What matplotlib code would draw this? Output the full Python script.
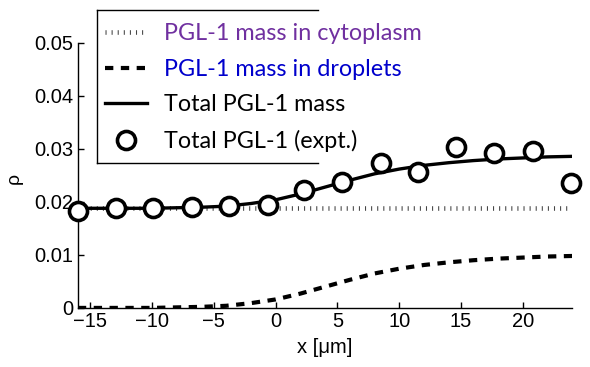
import numpy as np
import matplotlib
matplotlib.use("Agg")
from matplotlib import pyplot as plt
from matplotlib.lines import Line2D

# model curves, every 2 um
x_model = [-16, -14, -12, -10, -8, -6, -4, -2, 0, 2, 4, 6, 8, 10, 12, 14, 16, 18, 20, 22, 24]
rho_cyto = [0.0188] * len(x_model)
rho_drop = [0.0, 0.0, 0.0, 0.0, 0.0001, 0.0002, 0.0004, 0.0009, 0.0016, 0.0027, 0.0040,
            0.0053, 0.0065, 0.0074, 0.0081, 0.0086, 0.0090, 0.0093, 0.0095, 0.0097, 0.0098]
rho_total = [0.0188, 0.0188, 0.0188, 0.0188, 0.0189, 0.0190, 0.0192, 0.0197, 0.0204, 0.0215,
             0.0228, 0.0241, 0.0253, 0.0262, 0.0269, 0.0274, 0.0278, 0.0281, 0.0283, 0.0285, 0.0286]

# experimental points
x_expt = [-16, -12.9, -9.9, -6.8, -3.8, -0.6, 2.3, 5.4, 8.5, 11.5, 14.6, 17.7, 20.8, 23.9]
rho_expt = [0.0182, 0.0188, 0.0188, 0.0191, 0.0192, 0.0194, 0.0223, 0.0238, 0.0274,
            0.0256, 0.0304, 0.0292, 0.0296, 0.0235]

labels = ["PGL-1 mass in cytoplasm", "PGL-1 mass in droplets",
          "Total PGL-1 mass", "Total PGL-1 (expt.)"]
label_colors = ["#7030A0", "#0000CC", "black", "black"]

tick_font = "Liberation Sans"
legend_font = "Lato"

fig = plt.figure(figsize=(5.9, 3.67), dpi=100)
ax = fig.add_axes([0.132, 0.161, 0.838, 0.722])

cyto_line, = ax.plot(x_model, rho_cyto, color="#444444", lw=3.3, solid_capstyle="butt",
                     dash_capstyle="butt", dashes=(0.23, 1.1))
drop_line, = ax.plot(x_model, rho_drop, color="black", lw=3, dashes=(2.0, 1.8),
                     dash_capstyle="butt")
total_line, = ax.plot(x_model, rho_total, color="black", lw=2.4)
expt_pts, = ax.plot(x_expt, rho_expt, "o", ms=13, mfc="white", mec="black", mew=2.6,
                    clip_on=False, zorder=5)

ax.set_xlim(-16, 24)
ax.set_ylim(0, 0.05)
ax.set_xticks([-15, -10, -5, 0, 5, 10, 15, 20])
ax.set_xticklabels(["\u221215", "\u221210", "\u22125", "0", "5", "10", "15", "20"])
ax.set_yticks([0, 0.01, 0.02, 0.03, 0.04, 0.05])
ax.set_yticklabels(["0", "0.01", "0.02", "0.03", "0.04", "0.05"])
ax.tick_params(direction="in", length=4, width=1, labelsize=14.5, pad=3)
for t in ax.get_xticklabels() + ax.get_yticklabels():
    t.set_family(tick_font)
ax.spines["top"].set_visible(False)
ax.spines["right"].set_visible(False)
ax.spines["left"].set_linewidth(1)
ax.spines["bottom"].set_linewidth(1)

ax.set_xlabel("x [\u03bcm]", fontsize=14.5, family=tick_font, labelpad=5)
fig.text(0.025, 0.515, "\u03c1", rotation=90, fontsize=14, family=tick_font,
         ha="center", va="center")

# legend, box drawn separately (open on the right as in the original)
leg = fig.legend([cyto_line, drop_line, total_line, expt_pts], labels,
                 loc="upper left", bbox_to_anchor=(105 / 590, 1 - 23 / 367), frameon=False,
                 borderpad=0, borderaxespad=0,
                 handlelength=1.8, handletextpad=0.72, labelspacing=0.63,
                 prop={"family": legend_font, "size": 16.8})
for t, c in zip(leg.get_texts(), label_colors):
    t.set_color(c)

x0, x1 = 97 / 590, 318 / 590
y0, y1 = 1 - 163 / 367, 1 - 10 / 367
for xs, ys in [((x0, x1), (y1, y1)), ((x0, x0), (y0, y1)), ((x0, x1), (y0, y0))]:
    fig.add_artist(Line2D(xs, ys, transform=fig.transFigure, color="black", lw=1))

fig.savefig("out.png", dpi=100)
